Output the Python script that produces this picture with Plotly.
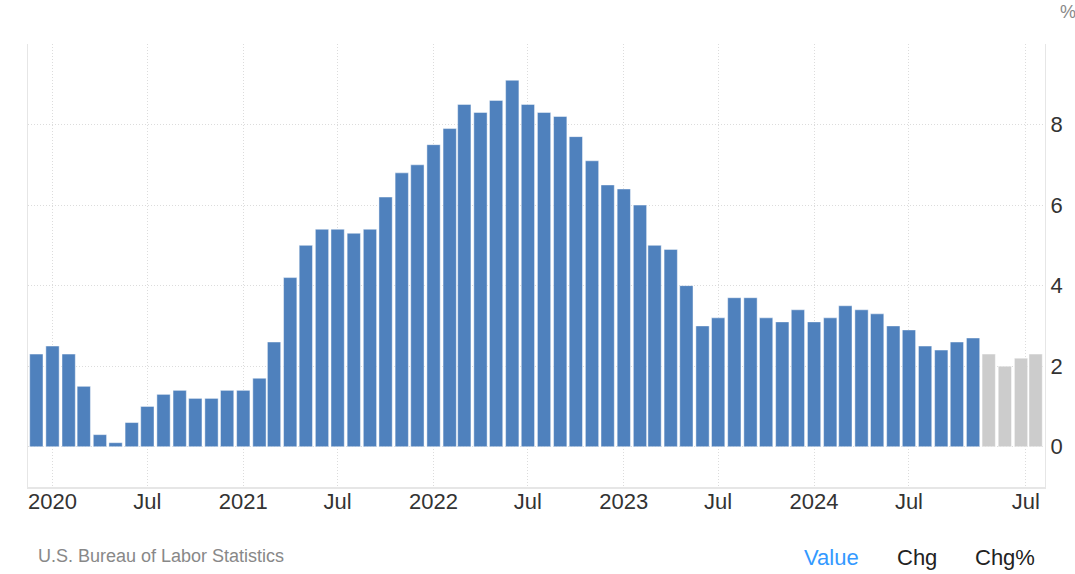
import plotly.graph_objects as go
import pandas as pd

# ---- data ----
actual_months = pd.date_range("2019-12-01", "2024-11-01", freq="MS")
actual_values = [
    2.3,
    2.5, 2.3, 1.5, 0.3, 0.1, 0.6, 1.0, 1.3, 1.4, 1.2, 1.2, 1.4,
    1.4, 1.7, 2.6, 4.2, 5.0, 5.4, 5.4, 5.3, 5.4, 6.2, 6.8, 7.0,
    7.5, 7.9, 8.5, 8.3, 8.6, 9.1, 8.5, 8.3, 8.2, 7.7, 7.1, 6.5,
    6.4, 6.0, 5.0, 4.9, 4.0, 3.0, 3.2, 3.7, 3.7, 3.2, 3.1, 3.4,
    3.1, 3.2, 3.5, 3.4, 3.3, 3.0, 2.9, 2.5, 2.4, 2.6, 2.7,
]
forecast_months = pd.date_range("2024-12-01", "2025-03-01", freq="MS")
forecast_values = [2.3, 2.0, 2.2, 2.3]

tick_dates = ["2020-01-01", "2020-07-01", "2021-01-01", "2021-07-01", "2022-01-01",
              "2022-07-01", "2023-01-01", "2023-07-01", "2024-01-01", "2024-07-01",
              "2025-02-10"]
tick_labels = ["2020", "Jul", "2021", "Jul", "2022", "Jul", "2023", "Jul", "2024", "Jul", "Jul"]
y_ticks = [0, 2, 4, 6, 8, 10]
y_tick_labels = ["0", "2", "4", "6", "8", ""]

# ---- styles ----
BLUE = "#4f81bd"
GREY = "#cccccc"
GRID = "#dcdcdc"
AXLINE = "#e6e6e6"
DAY_MS = 86400000
bar_width = 25.5 * DAY_MS

fig = go.Figure()
fig.add_trace(go.Bar(
    x=actual_months, y=actual_values, width=[bar_width] * len(actual_values),
    marker=dict(color=BLUE, line=dict(color="rgba(255,255,255,0.45)", width=1)),
    hoverinfo="x+y", showlegend=False,
))
fig.add_trace(go.Bar(
    x=forecast_months, y=forecast_values, width=[bar_width] * len(forecast_values),
    marker=dict(color=GREY, line=dict(color="rgba(255,255,255,0.45)", width=1)),
    hoverinfo="x+y", showlegend=False,
))

L, R, T, B = 28, 30, 44, 87
W, H = 1075, 574
pw, ph = W - L - R, H - T - B

def px(x):
    return (x - L) / pw

def py(y):
    return (H - B - y) / ph

fig.update_layout(
    width=W, height=H,
    margin=dict(l=L, r=R, t=T, b=B, pad=0),
    paper_bgcolor="white", plot_bgcolor="white",
    barmode="overlay",
    font=dict(family="Liberation Sans, Arial, sans-serif", color="#333333"),
    xaxis=dict(
        type="date", range=["2019-11-15", "2025-03-19"],
        tickmode="array", tickvals=tick_dates, ticktext=tick_labels,
        tickfont=dict(size=22, color="#333333"),
        ticklabelstandoff=-6,
        showgrid=True, gridcolor=GRID, griddash="1px,2px", gridwidth=1,
        showline=True, linecolor=AXLINE, linewidth=2,
        ticks="", zeroline=False, fixedrange=True,
    ),
    yaxis=dict(
        side="right", range=[-1, 10],
        tickmode="array", tickvals=y_ticks, ticktext=y_tick_labels,
        tickfont=dict(size=22, color="#333333"),
        showgrid=True, gridcolor=GRID, griddash="1px,2px", gridwidth=1,
        showline=True, linecolor=AXLINE, linewidth=1, mirror=True,
        ticks="", zeroline=False, fixedrange=True,
    ),
    annotations=[
        dict(text="%", x=px(1068), y=py(12), xref="paper", yref="paper",
             xanchor="center", yanchor="middle", showarrow=False,
             font=dict(size=18, color="#888888")),
        dict(text="U.S. Bureau of Labor Statistics", x=px(36), y=py(556),
             xref="paper", yref="paper", xanchor="left", yanchor="middle",
             showarrow=False, font=dict(size=18, color="#888888")),
        dict(text="Value", x=px(802), y=py(557), xref="paper", yref="paper",
             xanchor="left", yanchor="middle", showarrow=False,
             font=dict(size=22, color="#3399ff")),
        dict(text="Chg", x=px(895), y=py(557), xref="paper", yref="paper",
             xanchor="left", yanchor="middle", showarrow=False,
             font=dict(size=22, color="#222222")),
        dict(text="Chg%", x=px(973), y=py(557), xref="paper", yref="paper",
             xanchor="left", yanchor="middle", showarrow=False,
             font=dict(size=22, color="#222222")),
    ],
)

fig.write_html("out.html", config={"displayModeBar": False},
               post_script="document.body.style.margin='0';")
